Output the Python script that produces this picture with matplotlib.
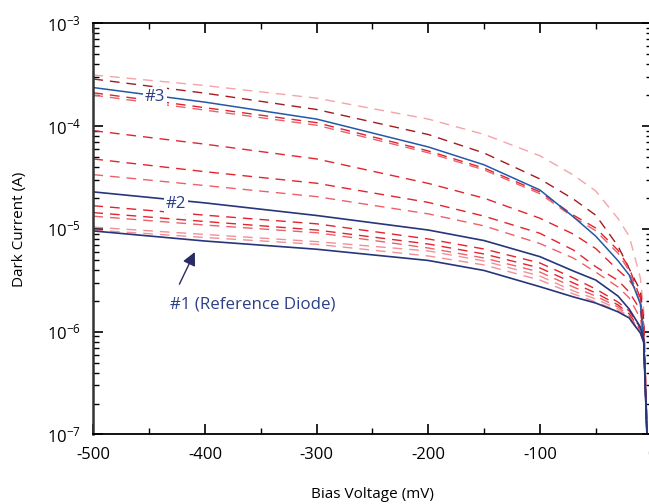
import matplotlib
matplotlib.use("Agg")
import matplotlib.pyplot as plt
from matplotlib.ticker import LogLocator, NullFormatter, MultipleLocator

plt.rcParams['font.family'] = ['Open Sans', 'DejaVu Sans']
plt.rcParams['mathtext.fontset'] = 'custom'
plt.rcParams['mathtext.rm'] = 'Open Sans'
plt.rcParams['mathtext.default'] = 'regular'

# bias voltage (mV) at the points
v_mv = [-500, -400, -300, -200, -150, -100, -70, -50, -30, -20, -10, -7, 0]

# solid curves, dark current (A)
diode1 = [9.55e-6, 7.62e-6, 6.34e-6, 4.93e-6, 3.94e-6, 2.74e-6, 2.18e-6, 1.9e-6, 1.56e-6, 1.36e-6, 9.7e-7, 7.9e-7, 5e-9]
diode2 = [2.29e-5, 1.79e-5, 1.35e-5, 9.75e-6, 7.7e-6, 5.37e-6, 3.89e-6, 3.18e-6, 2.22e-6, 1.66e-6, 1.11e-6, 8.3e-7, 5e-9]
diode3 = [2.37e-4, 1.71e-4, 1.17e-4, 6.27e-5, 4.2e-5, 2.39e-5, 1.31e-5, 8.5e-6, 4.9e-6, 3.56e-6, 1.86e-6, 8.3e-7, 5e-9]

# dashed curves
dash_p1 = [3.14e-4, 2.48e-4, 1.87e-4, 1.17e-4, 8.3e-5, 5.15e-5, 3.34e-5, 2.34e-5, 1.26e-5, 8.5e-6, 3.33e-6, 1.6e-6, 5e-9]
dash_d1 = [2.87e-4, 2.09e-4, 1.45e-4, 8.28e-5, 5.47e-5, 3.06e-5, 1.95e-5, 1.36e-5, 6.8e-6, 4.1e-6, 2.5e-6, 1.3e-6, 5e-9]
dash_r1 = [2.11e-4, 1.51e-4, 1.08e-4, 5.73e-5, 3.9e-5, 2.29e-5, 1.36e-5, 1.02e-5, 6.2e-6, 4.2e-6, 2.1e-6, 1.1e-6, 5e-9]
dash_r1b = [2.0e-4, 1.43e-4, 1.02e-4, 5.5e-5, 3.75e-5, 2.2e-5, 1.3e-5, 9.6e-6, 5.8e-6, 3.9e-6, 1.9e-6, 1.0e-6, 5e-9]
dash_r2 = [9.02e-5, 6.67e-5, 4.79e-5, 2.77e-5, 1.99e-5, 1.27e-5, 8.9e-6, 6.44e-6, 3.98e-6, 3.18e-6, 2.22e-6, 1.0e-6, 5e-9]
dash_r3 = [4.79e-5, 3.6e-5, 2.78e-5, 1.81e-5, 1.33e-5, 9.06e-6, 6.23e-6, 4.29e-6, 3.15e-6, 2.43e-6, 1.63e-6, 9e-7, 5e-9]
dash_p3 = [3.37e-5, 2.64e-5, 2.06e-5, 1.4e-5, 1.07e-5, 7.2e-6, 5.2e-6, 3.8e-6, 2.72e-6, 2.13e-6, 1.35e-6, 8.5e-7, 5e-9]
dash_r4 = [1.68e-5, 1.36e-5, 1.12e-5, 7.98e-6, 6.37e-6, 4.66e-6, 3.33e-6, 2.6e-6, 1.94e-6, 1.59e-6, 1.09e-6, 8.2e-7, 5e-9]
dash_r5 = [1.44e-5, 1.18e-5, 9.75e-6, 7.13e-6, 5.7e-6, 4.17e-6, 2.98e-6, 2.38e-6, 1.82e-6, 1.49e-6, 1.04e-6, 8.1e-7, 5e-9]
dash_r6 = [1.33e-5, 1.09e-5, 9.18e-6, 6.52e-6, 5.21e-6, 3.8e-6, 2.72e-6, 2.22e-6, 1.74e-6, 1.42e-6, 1.02e-6, 8e-7, 5e-9]
dash_c1 = [1.04e-5, 8.83e-6, 7.52e-6, 6.1e-6, 4.88e-6, 3.48e-6, 2.49e-6, 2.08e-6, 1.66e-6, 1.39e-6, 9.9e-7, 8e-7, 5e-9]
dash_c2 = [9.75e-6, 8.25e-6, 7.08e-6, 5.45e-6, 4.46e-6, 3.18e-6, 2.33e-6, 1.95e-6, 1.59e-6, 1.33e-6, 9.7e-7, 7.9e-7, 5e-9]

x_ticks = [-500, -400, -300, -200, -100, 0]
x_tick_labels = ['-500', '-400', '-300', '-200', '-100', '0']
y_ticks = [1e-7, 1e-6, 1e-5, 1e-4, 1e-3]
y_tick_labels = ['10$^{-7}$', '10$^{-6}$', '10$^{-5}$', '10$^{-4}$', '10$^{-3}$']

RED = '#e3232e'
PINK = '#f28f98'
LIGHT = '#f5a3ab'
DARK = '#a31b1e'
SALMON = '#ee6069'
NAVY = '#27357a'
BLUE = '#2458a8'

fig = plt.figure(figsize=(6.49, 5.04), dpi=100)
ax = fig.add_axes([0.1438, 0.1379, 0.8601, 0.8159])

dash = (0, (7, 5))
for vals, col in [(dash_p1, LIGHT), (dash_d1, DARK), (dash_r1, RED), (dash_r1b, SALMON),
                  (dash_r2, RED), (dash_r3, RED), (dash_p3, SALMON), (dash_r4, RED),
                  (dash_r5, RED), (dash_r6, SALMON), (dash_c1, PINK), (dash_c2, PINK)]:
    ax.plot(v_mv, vals, color=col, lw=1.0, linestyle=dash)

ax.plot(v_mv, diode3, color=BLUE, lw=1.1)
ax.plot(v_mv, diode2, color=NAVY, lw=1.2)
ax.plot(v_mv, diode1, color=NAVY, lw=1.2)

ax.set_yscale('log')
ax.set_xlim(-500, 0)
ax.set_ylim(1e-7, 1e-3)

ax.set_xticks(x_ticks)
ax.set_xticklabels(x_tick_labels)
ax.xaxis.set_minor_locator(MultipleLocator(50))
ax.set_yticks(y_ticks)
ax.set_yticklabels(y_tick_labels)
ax.yaxis.set_minor_locator(LogLocator(base=10, subs=range(2, 10)))
ax.yaxis.set_minor_formatter(NullFormatter())

ax.tick_params(which='both', direction='in', top=True, right=True, labelsize=12, pad=9)
ax.tick_params(which='major', length=7, width=1.2)
ax.tick_params(which='minor', length=4, width=1.0)
for s in ax.spines.values():
    s.set_linewidth(1.3)
ax.spines['left'].set_color('#333333')
ax.spines['left'].set_linewidth(1.8)

ax.set_xlabel('Bias Voltage (mV)', fontsize=11, labelpad=17)
ax.set_ylabel('Dark Current (A)', fontsize=11, labelpad=14)

lab = dict(color='#2c3f86', fontsize=12.2, ha='center', va='center',
           bbox=dict(facecolor='white', edgecolor='none', pad=1.5))
ax.text(-445, 1.92e-4, '#3', **lab)
ax.text(-426, 1.75e-5, '#2', **lab)
ax.text(-357, 1.82e-6, '#1 (Reference Diode)', color='#2c3f86', fontsize=12.2, ha='center', va='center')
ax.annotate('', xy=(-408, 6.3e-6), xytext=(-424, 2.74e-6),
            arrowprops=dict(arrowstyle='-|>', mutation_scale=20, color='#2a2a66', lw=1.0))

fig.savefig('out.png', dpi=100)
